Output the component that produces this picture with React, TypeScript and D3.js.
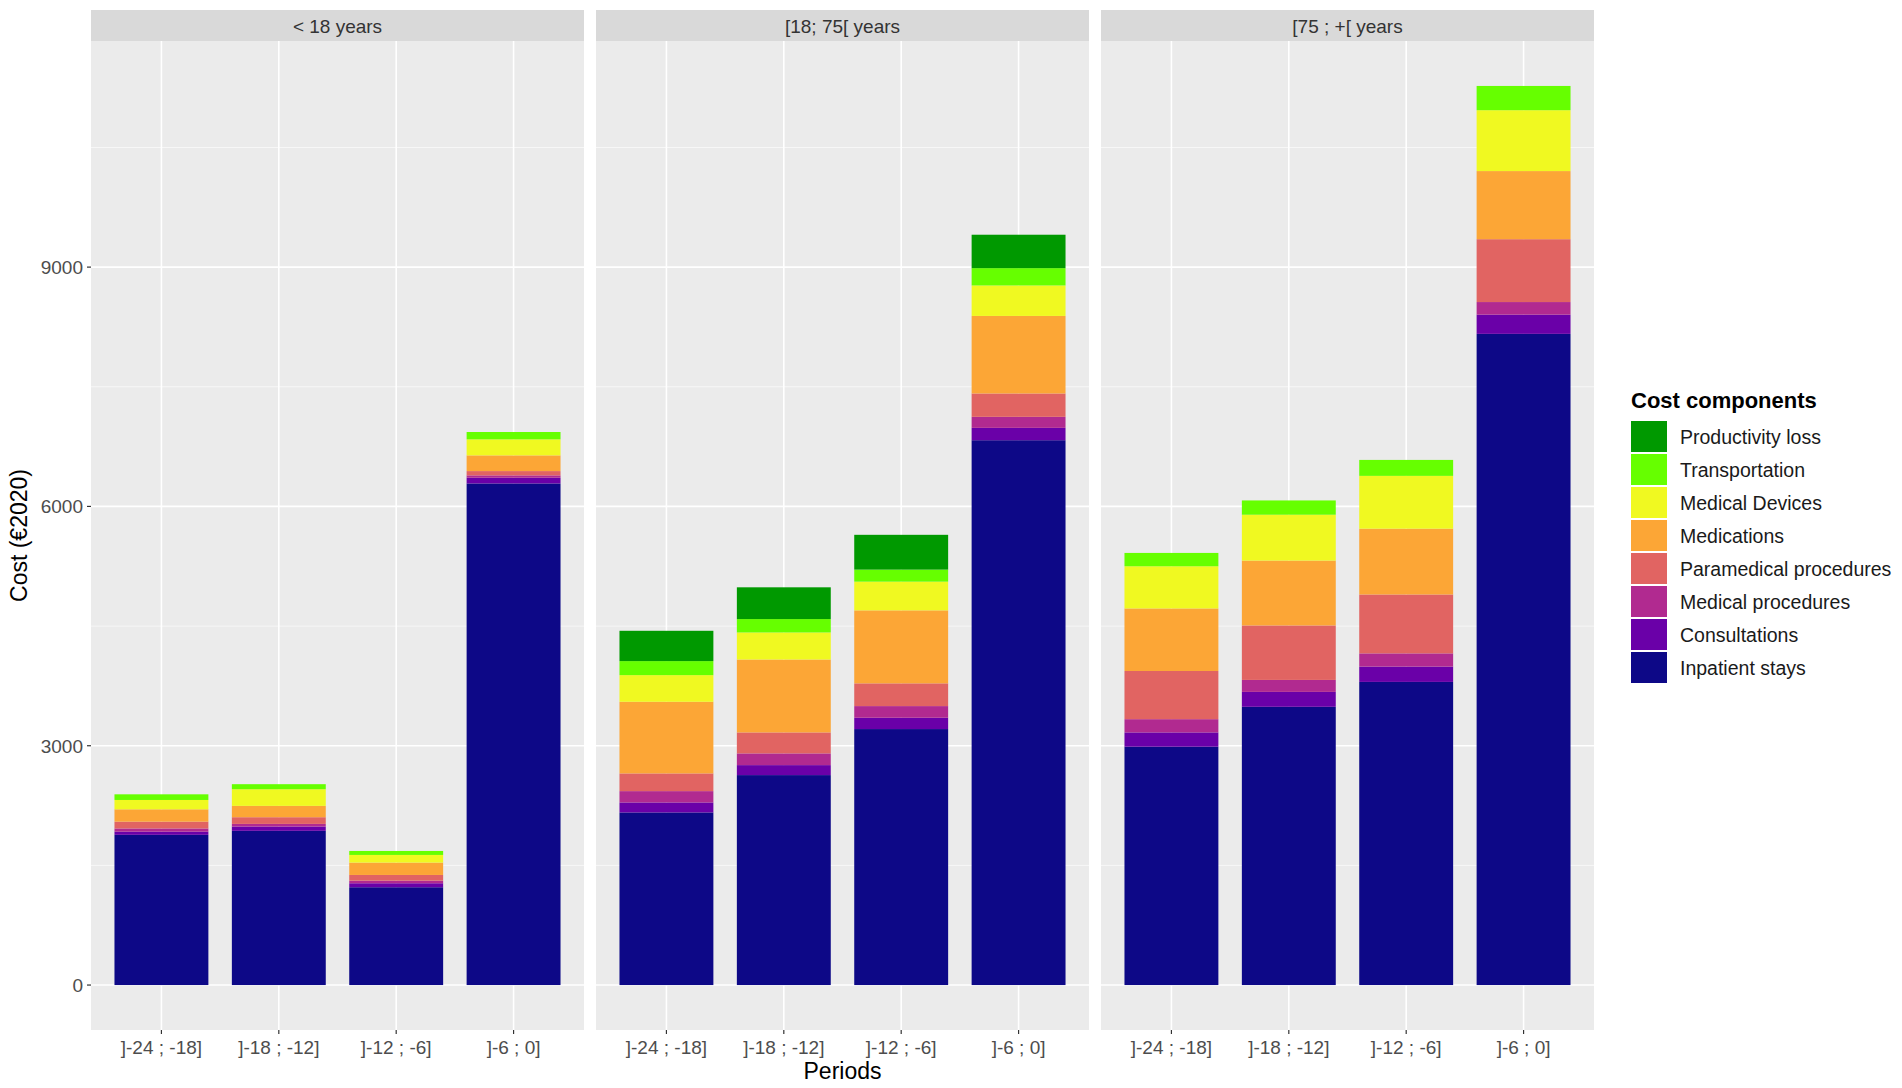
import React from 'react';
import * as d3 from 'd3';

const ageGroups = ['< 18 years', '[18; 75[ years', '[75 ; +[ years'];
const periods = [']-24 ; -18]', ']-18 ; -12]', ']-12 ; -6]', ']-6 ; 0]'];

// stacking order, bottom to top
const components = [
  'Inpatient stays',
  'Consultations',
  'Medical procedures',
  'Paramedical procedures',
  'Medications',
  'Medical Devices',
  'Transportation',
  'Productivity loss',
];
const componentColors = ['#0D0887', '#6A00A8', '#B12A90', '#E16462', '#FCA636', '#F0F921', '#66FF00', '#009900'];

// each array: 4 periods for < 18, then [18;75[, then [75;+[
const inpatientStays = [1883, 1933, 1226, 6288, 2164, 2632, 3209, 6830, 2988, 3488, 3800, 8163];
const consultations = [40, 54, 50, 72, 125, 125, 142, 155, 179, 187, 192, 241];
const medicalProcedures = [40, 33, 33, 29, 142, 147, 146, 138, 166, 150, 166, 158];
const paramedicalProcedures = [85, 84, 71, 54, 222, 263, 285, 293, 604, 683, 738, 788];
const medications = [155, 142, 155, 197, 898, 914, 915, 972, 784, 813, 825, 854];
const medicalDevices = [117, 209, 96, 201, 334, 339, 360, 382, 529, 575, 662, 763];
const transportation = [71, 63, 50, 92, 176, 168, 151, 217, 167, 179, 200, 304];
const productivityLoss = [0, 0, 0, 0, 380, 398, 436, 419, 0, 0, 0, 0];

const yTicks = [0, 3000, 6000, 9000];
const yMinorTicks = [1500, 4500, 7500, 10500];

const series = [
  inpatientStays,
  consultations,
  medicalProcedures,
  paramedicalProcedures,
  medications,
  medicalDevices,
  transportation,
  productivityLoss,
];

const W = 1902;
const H = 1088;
const panelLeft = 91;
const panelWidth = 493;
const panelGap = 12;
const stripTop = 10;
const stripH = 31;
const plotTop = stripTop + stripH;
const plotBottom = 1030;
const font = '"Liberation Sans", Arial, sans-serif';

export default function App() {
  const rows = ageGroups.flatMap((g, gi) =>
    periods.map((p, pi) => {
      const row: any = { group: g, period: p };
      components.forEach((c, ci) => (row[c] = series[ci][gi * 4 + pi]));
      return row;
    })
  );
  const stacked = d3.stack().keys(components)(rows);
  const maxTotal = d3.max(rows, (r: any) => d3.sum(components, (c) => r[c])) as number;

  const y = d3
    .scaleLinear()
    .domain([-0.05 * maxTotal, 1.05 * maxTotal])
    .range([plotBottom, plotTop]);

  // ggplot discrete axis: 0.6 expansion each side, bar width 0.8
  const x = d3
    .scalePoint()
    .domain(periods)
    .range([0, panelWidth])
    .padding(0.6);
  const step = x.step();
  const barW = step * 0.8;
  const center = (p: string) => x(p) as number;

  const color = d3.scaleOrdinal<string, string>().domain(components).range(componentColors);

  const legendX = 1631;
  const legendY = 421;
  const keyH = 33;

  return (
    <div style={{ position: 'absolute', left: 0, top: 0 }}>
      <svg width={W} height={H} style={{ display: 'block', background: '#fff' }} fontFamily={font}>
        {ageGroups.map((g, gi) => {
          const ox = panelLeft + gi * (panelWidth + panelGap);
          return (
            <g key={g} transform={`translate(${ox},0)`}>
              <rect x={0} y={stripTop} width={panelWidth} height={stripH} fill="#D9D9D9" />
              <text x={panelWidth / 2} y={stripTop + stripH / 2 + 7} textAnchor="middle" fontSize={19} fill="#333">
                {g}
              </text>
              <rect x={0} y={plotTop} width={panelWidth} height={plotBottom - plotTop} fill="#EBEBEB" />
              {yMinorTicks.map((t) => (
                <line key={'m' + t} x1={0} x2={panelWidth} y1={y(t)} y2={y(t)} stroke="#fff" strokeWidth={0.8} opacity={0.8} />
              ))}
              {yTicks.map((t) => (
                <line key={t} x1={0} x2={panelWidth} y1={y(t)} y2={y(t)} stroke="#fff" strokeWidth={1.6} />
              ))}
              {periods.map((p) => (
                <line key={p} x1={center(p)} x2={center(p)} y1={plotTop} y2={plotBottom} stroke="#fff" strokeWidth={1.6} />
              ))}
              {stacked.map((layer) => (
                <g key={layer.key} fill={color(layer.key)}>
                  {layer
                    .filter((d: any) => d.data.group === g && d[1] > d[0])
                    .map((d: any) => (
                      <rect
                        key={d.data.period}
                        x={center(d.data.period) - barW / 2}
                        y={y(d[1])}
                        width={barW}
                        height={y(d[0]) - y(d[1])}
                      />
                    ))}
                </g>
              ))}
              {periods.map((p) => (
                <g key={'t' + p}>
                  <line x1={center(p)} x2={center(p)} y1={plotBottom} y2={plotBottom + 4} stroke="#333" strokeWidth={1.2} />
                  <text x={center(p)} y={1054} textAnchor="middle" fontSize={19} fill="#4D4D4D">
                    {p}
                  </text>
                </g>
              ))}
            </g>
          );
        })}

        {yTicks.map((t) => (
          <g key={'y' + t}>
            <line x1={panelLeft - 4} x2={panelLeft} y1={y(t)} y2={y(t)} stroke="#333" strokeWidth={1.2} />
            <text x={panelLeft - 8} y={y(t) + 7} textAnchor="end" fontSize={19} fill="#4D4D4D">
              {t}
            </text>
          </g>
        ))}

        <text
          transform={`translate(27,${(plotTop + plotBottom) / 2}) rotate(-90)`}
          textAnchor="middle"
          fontSize={23}
          fill="#000"
        >
          Cost (€2020)
        </text>
        <text
          x={(panelLeft + panelLeft + 3 * panelWidth + 2 * panelGap) / 2}
          y={1079}
          textAnchor="middle"
          fontSize={23}
          fill="#000"
        >
          Periods
        </text>

        <text x={legendX} y={legendY - 13} fontSize={22} fontWeight="bold" fill="#000">
          Cost components
        </text>
        {components
          .slice()
          .reverse()
          .map((c, i) => (
            <g key={c} transform={`translate(${legendX},${legendY + i * keyH})`}>
              <rect x={0} y={0} width={36} height={keyH - 2} fill={color(c)} />
              <text x={49} y={keyH / 2 + 6} fontSize={19.5} fill="#1A1A1A">
                {c}
              </text>
            </g>
          ))}
      </svg>
    </div>
  );
}
